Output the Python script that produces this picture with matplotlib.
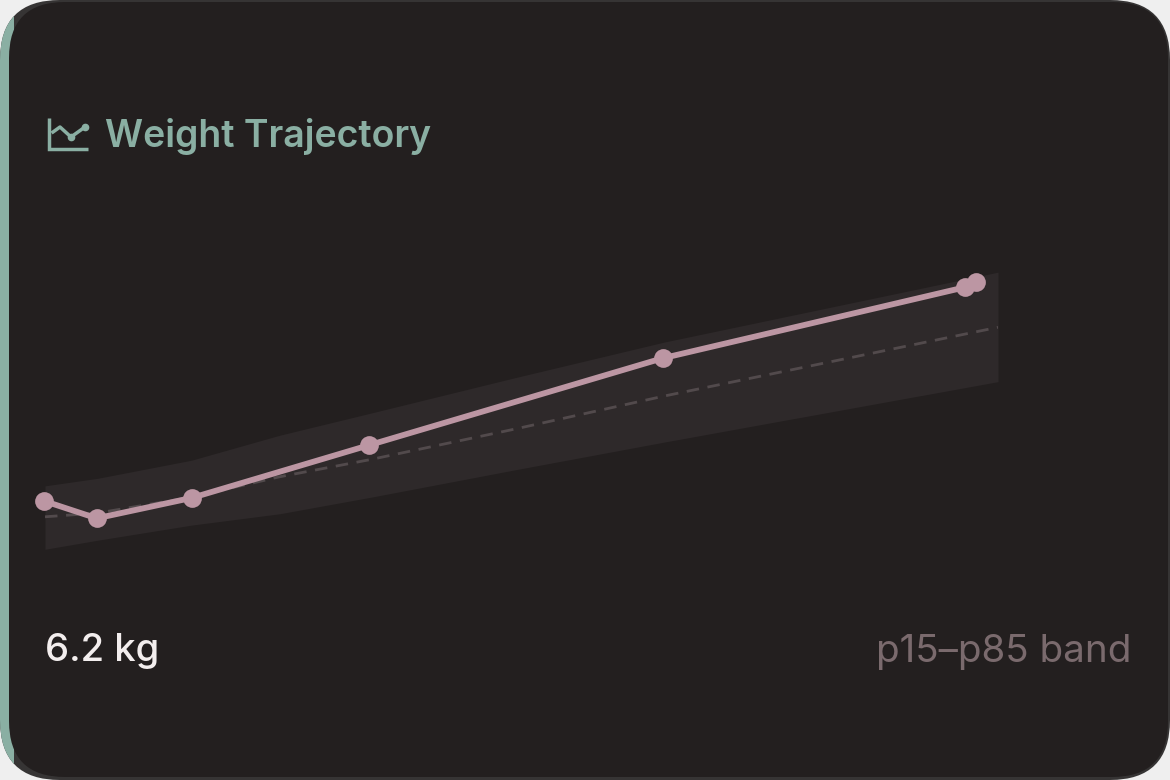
import matplotlib
matplotlib.use('Agg')
import matplotlib.pyplot as plt
from matplotlib.patches import FancyBboxPatch, Rectangle

# Datos: edad en semanas y peso en kg
edad = [-0.03, 1.41, 4.0, 8.85, 16.85, 25.1, 25.4]
peso = [3.30, 3.07, 3.34, 4.04, 5.19, 6.13, 6.20]

# Banda p15-p85 y mediana
edad_banda = [0, 1.44, 4.0, 6.4, 8.9, 12.8, 16.9, 26]
p15 = [2.66, 2.78, 2.98, 3.13, 3.35, 3.71, 4.08, 4.88]
p50 = [3.09, 3.14, 3.35, 3.62, 3.85, 4.25, 4.69, 5.60]
p85 = [3.50, 3.60, 3.84, 4.17, 4.465, 4.93, 5.405, 6.33]

titulo = 'Weight Trajectory'
ultimo_peso = '6.2 kg'
nota_banda = 'p15\u2013p85 band'

ANCHO, ALTO = 1170, 780
FONDO = '#231f1f'
VERDE = '#8aafa3'
ROSA = '#bc96a3'

plt.rcParams['font.family'] = ['Inter', 'DejaVu Sans']

fig = plt.figure(figsize=(ANCHO / 100, ALTO / 100), dpi=100, facecolor='#efefef')

# Capa de la tarjeta, en pixeles
capa = fig.add_axes([0, 0, 1, 1])
capa.set_xlim(0, ANCHO)
capa.set_ylim(ALTO, 0)
capa.axis('off')

borde = FancyBboxPatch((0, 0), ANCHO, ALTO, boxstyle='round,pad=0,rounding_size=60',
                       facecolor='#363434', edgecolor='none')
capa.add_patch(borde)
franja = Rectangle((0, 0), 14, ALTO, facecolor=VERDE, edgecolor='none')
capa.add_patch(franja)
franja.set_clip_path(borde)
capa.add_patch(FancyBboxPatch((9, 2), ANCHO - 11, ALTO - 5, boxstyle='round,pad=0,rounding_size=56',
                              facecolor=FONDO, edgecolor='none'))

# Icono del titulo
capa.plot([49, 49, 88], [118, 149, 149], color=VERDE, lw=2.5, solid_joinstyle='miter',
          solid_capstyle='butt')
capa.plot([53, 60, 71, 85], [132, 127, 137, 127], color=VERDE, lw=2.5)
capa.plot([71, 85], [137, 127], 'o', color=VERDE, ms=4.5)

capa.text(105, 147, titulo, color=VERDE, fontsize=26.9, fontweight='semibold')
capa.text(45, 661, ultimo_peso, color='#f3eeee', fontsize=27.5, fontweight='medium')
capa.text(1131, 661.5, nota_banda, color='#7a6a6d', fontsize=27.8, ha='right')

# Grafico
ax = fig.add_axes([45 / ANCHO, 1 - 580 / ALTO, (998 - 45) / ANCHO, 340 / ALTO])
ax.patch.set_alpha(0)
ax.set_xlim(0, 26)
ax.set_ylim(2.253, 6.756)
ax.axis('off')

ax.fill_between(edad_banda, p15, p85, color='#2e292a', lw=0)
ax.plot(edad_banda, p50, color='#524a4c', lw=2.0, dashes=(4.5, 3.1))
ax.plot(edad, peso, color=ROSA, lw=4.2, marker='o', ms=13.5, mew=0, clip_on=False,
        solid_joinstyle='round')

fig.savefig('out.png', dpi=100, facecolor=fig.get_facecolor())
